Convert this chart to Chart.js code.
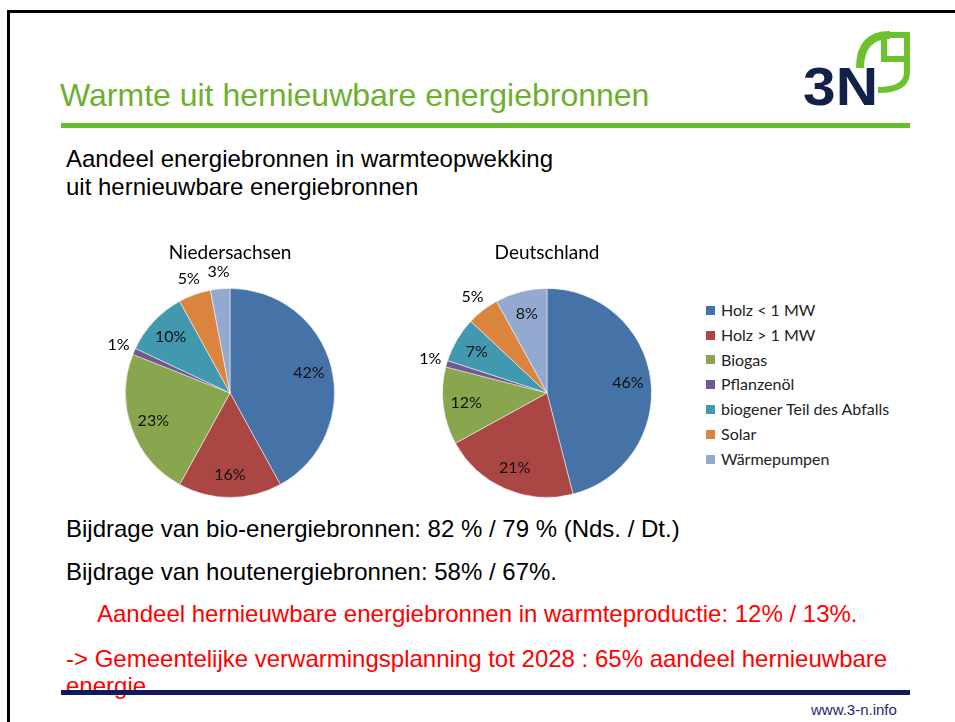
<!DOCTYPE html>
<html>
<head>
<meta charset="utf-8">
<script src="https://cdn.jsdelivr.net/npm/chart.js@4.4.1/dist/chart.umd.min.js"></script>
<style>
  html, body { margin: 0; padding: 0; background: #fff; }
  body { width: 955px; height: 722px; position: relative; overflow: hidden; font-family: "Liberation Sans", Arial, sans-serif; }
  .abs { position: absolute; white-space: nowrap; }
  .txt24 { font-size: 24px; line-height: 28px; color: #000; }
  .red { color: #ff0000; }
  #legend { position: absolute; left: 706px; top: 298px; font-family: Lato, sans-serif; font-size: 16px; color: #222; }
  #legend div { height: 24.8px; line-height: 24.8px; display: flex; align-items: center; }
  #legend span.sw { display: inline-block; width: 9px; height: 9px; margin-right: 6px; }
</style>
</head>
<body>
<script>
// ---- data ----
const categories = ["Holz < 1 MW", "Holz > 1 MW", "Biogas", "Pflanzenöl", "biogener Teil des Abfalls", "Solar", "Wärmepumpen"];
const niedersachsenValues = [42, 16, 23, 1, 10, 5, 3];
const deutschlandValues = [46, 21, 12, 1, 7, 5, 8];
const chartTitles = ["Niedersachsen", "Deutschland"];
const sliceColors = ["#4572A7", "#AA4643", "#89A54E", "#71588F", "#4198AF", "#DB843D", "#93A9CF"];
</script>

<!-- slide frame -->
<div class="abs" style="left:7px;top:10px;width:960px;height:3px;background:#000"></div>
<div class="abs" style="left:7px;top:10px;width:3px;height:720px;background:#000"></div>

<!-- title -->
<div class="abs" style="left:60px;top:77px;font-size:32px;line-height:37px;color:#6DAF2F;">Warmte uit hernieuwbare energiebronnen</div>
<div class="abs" style="left:61px;top:123px;width:849px;height:5px;background:#66BF2A"></div>

<!-- logo -->
<svg class="abs" style="left:795px;top:25px" width="125" height="90" viewBox="795 25 125 90">
  <text x="803" y="105" font-family="Liberation Sans, Arial" font-weight="bold" font-size="54" fill="#12204A" textLength="75" lengthAdjust="spacingAndGlyphs">3N</text>
  <path d="M860 68 Q860 35 890 35" fill="none" stroke="#6CC12C" stroke-width="8"/>
  <path d="M880 35 L907 35 L907 72 Q907 90 878 90" fill="none" stroke="#6CC12C" stroke-width="6"/>
  <path d="M884 35 L884 59 L907 59" fill="none" stroke="#6CC12C" stroke-width="6"/>
</svg>

<!-- subtitle -->
<div class="abs txt24" style="left:66px;top:145px;">Aandeel energiebronnen in warmteopwekking</div>
<div class="abs txt24" style="left:66px;top:173px;">uit hernieuwbare energiebronnen</div>

<!-- charts -->
<div class="abs" style="left:100px;top:235px;width:260px;height:270px;"><canvas id="c1"></canvas></div>
<div class="abs" style="left:417px;top:235px;width:260px;height:270px;"><canvas id="c2"></canvas></div>
<div id="legend"></div>

<!-- bottom texts -->
<div class="abs txt24" style="left:66px;top:515px;">Bijdrage van bio-energiebronnen: 82 % / 79 % (Nds. / Dt.)</div>
<div class="abs txt24" style="left:66px;top:558px;">Bijdrage van houtenergiebronnen: 58% / 67%.</div>
<div class="abs txt24 red" style="left:97px;top:600px;">Aandeel hernieuwbare energiebronnen in warmteproductie: 12% / 13%.</div>
<div class="abs txt24 red" style="left:66px;top:645px;">-&gt; Gemeentelijke verwarmingsplanning tot 2028 : 65% aandeel hernieuwbare</div>
<div class="abs txt24 red" style="left:66px;top:672px;">energie</div>
<div class="abs" style="left:61px;top:690px;width:849px;height:5px;background:#0E1A5C"></div>
<div class="abs" style="left:811px;top:701px;font-size:15px;line-height:17px;color:#1C2A6A;">www.3-n.info</div>

<script>
const pieLabels = {
  id: 'pieLabels',
  afterDatasetsDraw(chart) {
    const ctx = chart.ctx;
    const meta = chart.getDatasetMeta(0);
    const data = chart.data.datasets[0].data;
    ctx.save();
    ctx.font = '16px Lato, sans-serif';
    ctx.textAlign = 'center';
    ctx.textBaseline = 'middle';
    meta.data.forEach((arc, i) => {
      const p = arc.getProps(['x', 'y', 'startAngle', 'endAngle', 'outerRadius'], true);
      const mid = (p.startAngle + p.endAngle) / 2;
      const outside = data[i] < 6;
      const r = outside ? p.outerRadius + 17 : p.outerRadius * 0.78;
      ctx.fillStyle = outside ? '#000' : '#111';
      ctx.fillText(data[i] + '%', p.x + Math.cos(mid) * r, p.y + Math.sin(mid) * r);
    });
    ctx.restore();
  }
};

function makePie(id, values, title) {
  new Chart(document.getElementById(id), {
    type: 'pie',
    data: {
      labels: categories,
      datasets: [{ data: values, backgroundColor: sliceColors, borderColor: 'rgba(255,255,255,0.5)', borderWidth: 1 }]
    },
    options: {
      responsive: true,
      maintainAspectRatio: false,
      animation: false,
      layout: { padding: { left: 25, right: 25, top: 0, bottom: 7 } },
      plugins: {
        legend: { display: false },
        tooltip: { enabled: false },
        title: {
          display: true, text: title, color: '#000',
          font: { family: 'Lato, sans-serif', size: 19, weight: 'normal', lineHeight: 1.2 },
          padding: { top: 6, bottom: 24 }
        }
      }
    },
    plugins: [pieLabels]
  });
}
makePie('c1', niedersachsenValues, chartTitles[0]);
makePie('c2', deutschlandValues, chartTitles[1]);

const lg = document.getElementById('legend');
categories.forEach((c, i) => {
  const row = document.createElement('div');
  const sw = document.createElement('span');
  sw.className = 'sw';
  sw.style.background = sliceColors[i];
  row.appendChild(sw);
  row.appendChild(document.createTextNode(c));
  lg.appendChild(row);
});
</script>
</body>
</html>
